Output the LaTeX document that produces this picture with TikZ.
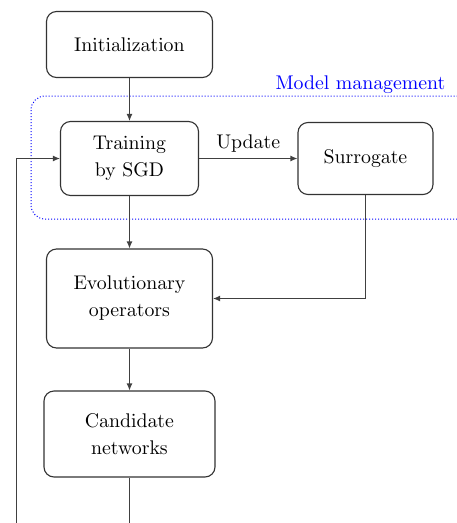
\documentclass[tikz,border=0pt]{standalone}
\usetikzlibrary{arrows.meta}
\font\myrm=cmr10 at 19.8pt
\begin{document}
\begin{tikzpicture}[x=1pt,y=1pt,
  box/.style={draw=black!80, line width=1.1pt, rounded corners=10pt, align=center,
    font={\fontsize{19.8}{27}\selectfont\myrm}, inner sep=0pt},
  conn/.style={draw=black!75, line width=1.1pt},
  arr/.style={conn, -{Latex[length=7pt,width=6pt]}},
  lbl/.style={font={\fontsize{19.8}{27}\selectfont\myrm}}]
\useasboundingbox (0,0) rectangle (456,-523);
\draw[blue, dotted, line width=1pt, rounded corners=14pt] (31,-96) rectangle (475,-219);
\node[lbl, text=blue, anchor=base east] (mm) at (449,-89) {Model management};
\node[box, minimum width=166pt, minimum height=66pt] (init) at (129.5,-44.5) {Initialization};
\node[box, minimum width=138pt, minimum height=74pt] (train) at (129.5,-158.5) {Training\\by SGD};
\node[box, minimum width=135pt, minimum height=72pt] (surr) at (365.5,-158.5) {Surrogate};
\node[box, minimum width=166pt, minimum height=99pt] (evo) at (129.5,-298.5) {Evolutionary\\operators};
\node[box, minimum width=171pt, minimum height=86pt] (cand) at (129.5,-434) {Candidate\\networks};
\coordinate (loopb) at (16.5,-523);
\coordinate (candb) at (129.5,-523);
\draw[arr] (init) -- (train);
\draw[arr] (train.east) -- node[lbl, above=2pt] (upd) {Update} (surr.west |- train.east);
\draw[arr] (train) -- (evo);
\draw[arr] (surr.south) |- (evo.east);
\draw[arr] (evo) -- (cand);
\draw[conn] (cand) -- (candb);
\draw[arr] (loopb) |- (train.west);
\end{tikzpicture}
\end{document}
